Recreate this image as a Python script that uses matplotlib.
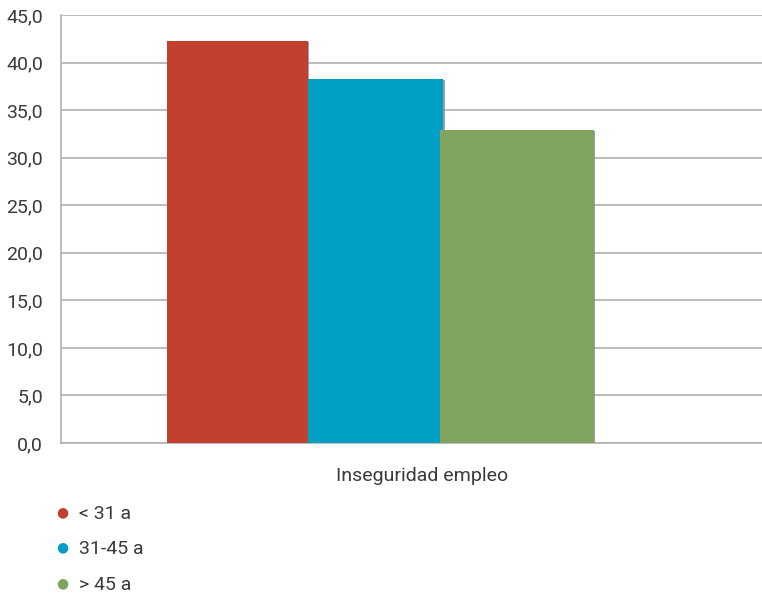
import matplotlib.pyplot as plt
import matplotlib.patheffects as pe
from matplotlib.font_manager import fontManager

# data
category = "Inseguridad empleo"
groups = ["< 31 a", "31-45 a", "> 45 a"]
values = [42.3, 38.3, 32.9]
colors = ["#c1402f", "#02a0c4", "#80a35f"]
yticks = [0, 5, 10, 15, 20, 25, 30, 35, 40, 45]

names = {f.name for f in fontManager.ttflist}
family = "Liberation Sans Narrow" if "Liberation Sans Narrow" in names else "Roboto"
plt.rcParams["font.family"] = [family, "DejaVu Sans"]

fig = plt.figure(figsize=(7.62, 5.95), dpi=100)
ax = fig.add_axes([61 / 762, 1 - 443 / 595, 701 / 762, 428 / 595])

# bar layout inside the axes (fraction of the x range)
lefts = [0.151, 0.352, 0.540]
widths = [0.201, 0.193, 0.220]
shadow = [pe.SimplePatchShadow(offset=(1.2, -0.6), shadow_rgbFace="#888888", alpha=0.8), pe.Normal()]
for left, w, v, c, g in zip(lefts, widths, values, colors, groups):
    ax.bar(left, v, width=w, align="edge", color=c, label=g, zorder=3,
           path_effects=shadow)

ax.set_xlim(0, 1)
ax.set_ylim(0, 45)
ax.set_yticks(yticks)
ax.set_yticklabels([f"{t:.1f}".replace(".", ",") for t in yticks])
ax.set_xticks([])
ax.grid(axis="y", color="#b0b0b0", linewidth=1.2, zorder=0)
ax.tick_params(axis="y", length=0, pad=13, labelsize=14, labelcolor="#3a3a3a")
for s in ["top", "right"]:
    ax.spines[s].set_visible(False)
ax.spines["left"].set_color("#b0b0b0")
ax.spines["bottom"].set_color("#b0b0b0")
ax.spines["left"].set_linewidth(1.2)
ax.spines["bottom"].set_linewidth(1.2)

ax.text(0.515, -0.078, category, transform=ax.transAxes, ha="center", va="center",
        fontsize=14, color="#3a3a3a")

# legend below the plot
for i, (g, c) in enumerate(zip(groups, colors)):
    y = 1 - (512 + i * 35.5) / 595
    fig.text(62 / 762, y, "\u25cf", color=c, fontsize=10, ha="center", va="center",
             family="DejaVu Sans")
    fig.text(79 / 762, y - 0.003, g, color="#3a3a3a", fontsize=14, ha="left", va="center")

fig.savefig("out.png", dpi=100)
